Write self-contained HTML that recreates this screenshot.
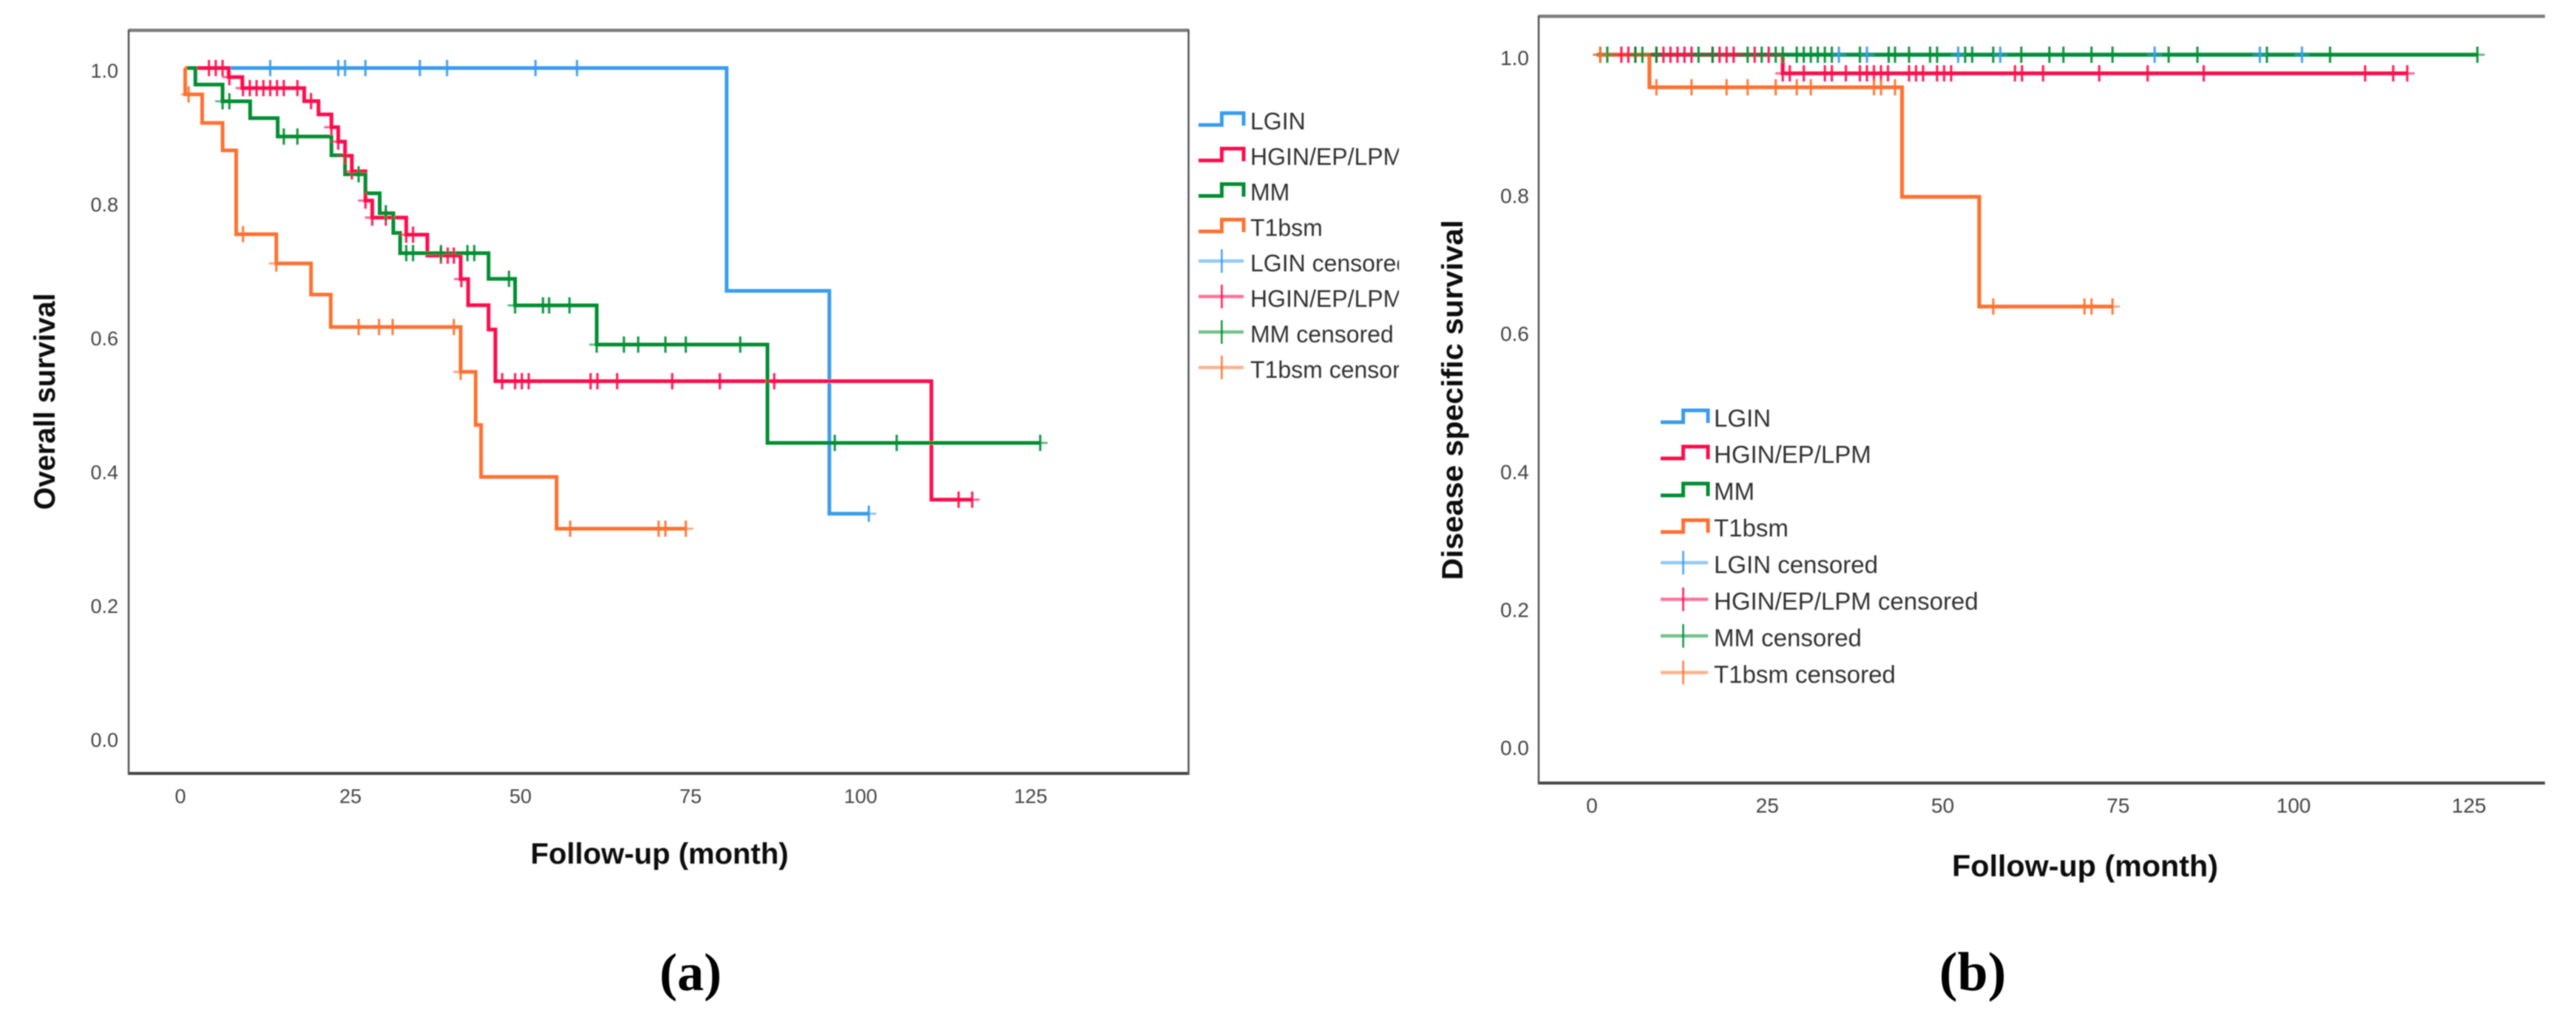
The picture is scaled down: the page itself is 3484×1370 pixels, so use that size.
<!DOCTYPE html>
<html lang="en">
<head>
<meta charset="utf-8">
<title>Kaplan-Meier survival curves</title>
<style>
html,body{margin:0;padding:0;background:#fff;}
body{width:3484px;height:1370px;overflow:hidden;}
svg{display:block;}
text{font-family:"Liberation Sans",sans-serif;}
.tick{font-size:27px;fill:#444;}
.title{font-size:40px;font-weight:bold;fill:#111;}
.leg{font-size:33px;fill:#333;}
.panel{font-family:"Liberation Serif",serif;font-weight:bold;fill:#000;}
</style>
</head>
<body>
<svg id="root" xmlns="http://www.w3.org/2000/svg" width="3484" height="1370" viewBox="0 0 3484 1370">
  <defs>
    <filter id="soft" filterUnits="userSpaceOnUse" x="0" y="0" width="3484" height="1370">
      <feGaussianBlur stdDeviation="0.7"/>
    </filter>
    <clipPath id="legend-clip-a"><rect x="1600" y="120" width="292" height="420"/></clipPath>
  </defs>
  <rect width="3484" height="1370" fill="#fff"/>
  <g id="art" filter="url(#soft)">
    <g id="panel-a">
      <line x1="174" y1="41" x2="1608" y2="41" stroke="#7d7d7d" stroke-width="4.5"/>
      <line x1="174" y1="1046" x2="1608" y2="1046" stroke="#444" stroke-width="4"/>
      <line x1="174" y1="40" x2="174" y2="1048" stroke="#555" stroke-width="2.5"/>
      <line x1="1607.5" y1="40" x2="1607.5" y2="1048" stroke="#555" stroke-width="2.5"/>
      <text class="title" transform="rotate(-90 74 543)" x="74" y="543" text-anchor="middle" textLength="293" lengthAdjust="spacingAndGlyphs">Overall survival</text>
      <text class="title" x="892" y="1168" text-anchor="middle" textLength="349" lengthAdjust="spacingAndGlyphs">Follow-up (month)</text>
    </g>
    <g id="panel-b">
      <line x1="2081" y1="22" x2="3442" y2="22" stroke="#7d7d7d" stroke-width="4.5"/>
      <line x1="2081" y1="1059" x2="3442" y2="1059" stroke="#444" stroke-width="4"/>
      <line x1="2081" y1="21" x2="2081" y2="1061" stroke="#555" stroke-width="2.5"/>
      <text class="title" transform="rotate(-90 1978 541)" x="1978" y="541" text-anchor="middle" textLength="487" lengthAdjust="spacingAndGlyphs">Disease specific survival</text>
      <text class="title" x="2820" y="1185" text-anchor="middle" textLength="360" lengthAdjust="spacingAndGlyphs" style="font-size:41px">Follow-up (month)</text>
    </g>
    <text class="panel" x="934" y="1339" text-anchor="middle" style="font-size:72px">(a)</text>
    <text class="panel" x="2668" y="1339" text-anchor="middle" style="font-size:74px">(b)</text>
  </g>
</svg>
<script>
// Shared axis values and labels
const xTickValues = [0, 25, 50, 75, 100, 125];
const yTickValues = [0, 0.2, 0.4, 0.6, 0.8, 1.0];
const yTickLabels = ['0.0', '0.2', '0.4', '0.6', '0.8', '1.0'];
const legendLabels = ['LGIN', 'HGIN/EP/LPM', 'MM', 'T1bsm', 'LGIN censored', 'HGIN/EP/LPM censored', 'MM censored', 'T1bsm censored'];
const seriesNames = ['lgin', 'hgin', 'mm', 't1bsm'];

// Panel (a): overall survival. Times are months, survival is a proportion.
const aLginTimes = [0.7, 80.3, 95.4];
const aLginSurv = [1, 0.667, 0.334];
const aLginCens = [13.2, 23.2, 24.2, 27.2, 35.2, 39.2, 52.2, 58.3, 101.2];

const aHginTimes = [0.7, 7.1, 9.1, 18.2, 20.3, 22.2, 23.2, 24.2, 25.2, 27.2, 28.2, 33.2, 36.3, 41.2, 42.3, 45.3, 46.3, 110.4];
const aHginSurv = [1, 0.9864, 0.97, 0.9506, 0.9307, 0.9116, 0.89, 0.8689, 0.8457, 0.8019, 0.7765, 0.751, 0.7197, 0.6847, 0.6456, 0.6092, 0.532, 0.355];
const aHginCens = [4.2, 5.2, 6.2, 7.2, 9.2, 10.2, 11.2, 12.2, 13.2, 14.2, 15.2, 17.2, 19.2, 22.2, 23.2, 24.2, 25.2, 27.2, 28.2, 30.2, 33.2, 34.2, 38.3, 39.3, 40.2, 41.3, 47.3, 49.2, 50.2, 51.2, 60.3, 61.3, 64.2, 72.3, 79.3, 87.3, 114.4, 116.4];

const aMmTimes = [0.7, 2.2, 6.2, 10.25, 14.3, 22.2, 24.2, 27.2, 29.3, 31.3, 32.3, 45.3, 49.2, 61.2, 86.3];
const aMmSurv = [1, 0.9753, 0.9503, 0.9252, 0.8976, 0.8696, 0.8412, 0.8129, 0.783, 0.7536, 0.7234, 0.685, 0.6453, 0.5867, 0.4398];
const aMmCens = [6.2, 7.2, 15.2, 17.2, 26.2, 30.2, 33.2, 34.2, 38.3, 42.2, 43.2, 48.3, 49.2, 53.3, 54.2, 57.2, 61.2, 65.2, 67.3, 71.3, 74.3, 82.3, 96.2, 105.3, 126.4];

const aT1Times = [0.65, 0.7, 3.2, 6.2, 8.2, 14.1, 19.2, 22.1, 41.2, 43.4, 44.2, 55.3];
const aT1Surv = [1, 0.9606, 0.918, 0.877, 0.7517, 0.708, 0.6615, 0.613, 0.546, 0.4666, 0.389, 0.3116];
const aT1Cens = [1.2, 9.2, 14.1, 26.2, 29.2, 31.2, 40.2, 41.2, 57.3, 70.3, 71.3, 74.3];

// Panel (b): disease specific survival
const bLginTimes = [0.7];
const bLginSurv = [1];
const bLginCens = [35.2, 39.2, 52.2, 58.2, 80.2, 95.2, 101.2];

const bHginTimes = [0.7, 27.2];
const bHginSurv = [1, 0.973];
const bHginCens = [4.2, 5.2, 6.2, 9.2, 10.2, 11.2, 12.2, 13.2, 14.2, 17.2, 18.2, 19.2, 20.2, 23.2, 25.2, 27.2, 28.2, 30.2, 33.2, 34.2, 36.2, 38.2, 39.2, 40.2, 41.2, 42.2, 45.2, 46.2, 47.2, 49.2, 50.2, 51.2, 60.3, 61.3, 64.3, 72.3, 79.2, 87.2, 110.2, 114.2, 116.2];

const bMmTimes = [0.7];
const bMmSurv = [1];
const bMmCens = [1.2, 2.2, 6.2, 7.2, 9.2, 15.2, 17.2, 22.2, 24.2, 26.2, 27.2, 29.2, 30.2, 31.2, 32.2, 33.2, 34.2, 38.2, 42.3, 43.2, 45.2, 48.2, 49.2, 53.2, 54.2, 57.2, 61.2, 65.2, 67.2, 71.2, 74.2, 82.2, 86.3, 96.2, 105.2, 126.2];

const bT1Times = [0.7, 8.2, 44.2, 55.2];
const bT1Surv = [1, 0.9528, 0.794, 0.635];
const bT1Cens = [1.2, 9.2, 14.2, 19.2, 22.2, 26.2, 29.2, 31.2, 40.2, 41.2, 43.2, 57.2, 70.2, 71.2, 74.2];

const colors = {lgin: '#3a9cec', hgin: '#ff0a4c', mm: '#008f32', t1bsm: '#ff7232'};
const legendColors = [colors.lgin, colors.hgin, colors.mm, colors.t1bsm];
const NS = 'http://www.w3.org/2000/svg';

function svgEl(tag, parent) {
  const el = document.createElementNS(NS, tag);
  parent.appendChild(el);
  return el;
}

function survivalAt(times, surv, t) {
  let s = surv[0];
  for (let i = 0; i < times.length; i++) {
    if (t >= times[i]) s = surv[i];
  }
  return s;
}

function stepPath(times, surv, endTime, xf, yf) {
  let d = 'M' + xf(times[0]) + ' ' + yf(surv[0]);
  for (let i = 1; i < times.length; i++) {
    d += ' H' + xf(times[i]) + ' V' + yf(surv[i]);
  }
  d += ' H' + xf(endTime);
  return d;
}

function drawLine(g, name, times, surv, cens, xf, yf, width) {
  const end = Math.max(times[times.length - 1], cens.length ? Math.max.apply(null, cens) : 0);
  const p = svgEl('path', g);
  p.setAttribute('d', stepPath(times, surv, end, xf, yf));
  p.setAttribute('fill', 'none');
  p.setAttribute('stroke', colors[name]);
  p.setAttribute('stroke-width', width);
  p.setAttribute('stroke-linejoin', 'miter');
  
  
}

function drawCensors(g, name, times, surv, cens, xf, yf) {
  cens.forEach(function (t) {
    const cx = xf(t);
    const cy = yf(survivalAt(times, surv, t));
    const mark = svgEl('g', g);
    
    
    const h = svgEl('line', mark);
    h.setAttribute('x1', cx - 10);
    h.setAttribute('x2', cx + 10);
    h.setAttribute('y1', cy);
    h.setAttribute('y2', cy);
    h.setAttribute('stroke', colors[name]);
    h.setAttribute('stroke-opacity', '0.6');
    h.setAttribute('stroke-width', '3');
    const v = svgEl('line', mark);
    v.setAttribute('x1', cx);
    v.setAttribute('x2', cx);
    v.setAttribute('y1', cy - 11);
    v.setAttribute('y2', cy + 11);
    v.setAttribute('stroke', colors[name]);
    v.setAttribute('stroke-opacity', '0.9');
    v.setAttribute('stroke-width', '3.2');
  });
}

function drawTicks(g, suffix, xf, yf, xBase, yRight, yOffset, size) {
  xTickValues.forEach(function (v) {
    const t = svgEl('text', g);
    t.setAttribute('class', 'tick');
    t.setAttribute('x', xf(v));
    t.setAttribute('y', xBase);
    t.setAttribute('text-anchor', 'middle');
    t.style.fontSize = size + 'px';
    
    
    t.textContent = String(v);
  });
  yTickValues.forEach(function (v, i) {
    const t = svgEl('text', g);
    t.setAttribute('class', 'tick');
    t.setAttribute('x', yRight);
    t.setAttribute('y', yf(v) + yOffset);
    t.setAttribute('text-anchor', 'end');
    t.style.fontSize = size + 'px';
    
    
    t.textContent = yTickLabels[i];
  });
}

function drawLegend(g, suffix, symLeft, symMid, symRight, textX, rows, clip, fontSize) {
  const legend = svgEl('g', g);
  
  
  if (clip) legend.setAttribute('clip-path', clip);
  legendLabels.forEach(function (label, i) {
    const y = rows[i];
    const color = legendColors[i % 4];
    const entry = svgEl('g', legend);
    
    
    if (i < 4) {
      const p = svgEl('path', entry);
      p.setAttribute('d', 'M' + symLeft + ' ' + (y + 6) + ' H' + symMid + ' V' + (y - 10) + ' H' + symRight + ' V' + (y + 7));
      p.setAttribute('fill', 'none');
      p.setAttribute('stroke', color);
      p.setAttribute('stroke-width', '5');
    } else {
      const h = svgEl('line', entry);
      h.setAttribute('x1', symLeft);
      h.setAttribute('x2', symRight);
      h.setAttribute('y1', y - 2);
      h.setAttribute('y2', y - 2);
      h.setAttribute('stroke', color);
      h.setAttribute('stroke-opacity', '0.55');
      h.setAttribute('stroke-width', '4.5');
      const v = svgEl('line', entry);
      v.setAttribute('x1', symMid);
      v.setAttribute('x2', symMid);
      v.setAttribute('y1', y - 18);
      v.setAttribute('y2', y + 14);
      v.setAttribute('stroke', color);
      v.setAttribute('stroke-opacity', '0.9');
      v.setAttribute('stroke-width', '2.6');
    }
    const t = svgEl('text', entry);
    t.setAttribute('class', 'leg');
    t.setAttribute('x', textX);
    t.setAttribute('y', y + 12);
    t.style.fontSize = fontSize + 'px';
    t.textContent = label;
  });
}

// Axis functions
function xA(t) { return 244 + 9.2 * t; }
function yA(s) { return 997 - 905 * s; }
function xB(t) { return 2153 + 9.49 * t; }
function yB(s) { return 1007 - 933 * s; }

const groupA = document.getElementById('panel-a');
const groupB = document.getElementById('panel-b');

// Panel (a) marks: lines first, then censor marks
drawLine(groupA, 'lgin', aLginTimes, aLginSurv, aLginCens, xA, yA, 5);
drawLine(groupA, 'hgin', aHginTimes, aHginSurv, aHginCens, xA, yA, 5);
drawLine(groupA, 'mm', aMmTimes, aMmSurv, aMmCens, xA, yA, 5);
drawLine(groupA, 't1bsm', aT1Times, aT1Surv, aT1Cens, xA, yA, 5);
drawCensors(groupA, 'hgin', aHginTimes, aHginSurv, aHginCens, xA, yA);
drawCensors(groupA, 'mm', aMmTimes, aMmSurv, aMmCens, xA, yA);
drawCensors(groupA, 't1bsm', aT1Times, aT1Surv, aT1Cens, xA, yA);
drawCensors(groupA, 'lgin', aLginTimes, aLginSurv, aLginCens, xA, yA);
drawTicks(groupA, 'a', xA, yA, 1086, 160, 13, 27);
drawLegend(groupA, 'a', 1621, 1652.4, 1682, 1691, [163, 211, 259, 307, 355, 403, 451, 499], 'url(#legend-clip-a)', 32);

// Panel (b) marks
drawLine(groupB, 'lgin', bLginTimes, bLginSurv, bLginCens, xB, yB, 5.2);
drawLine(groupB, 'hgin', bHginTimes, bHginSurv, bHginCens, xB, yB, 5.2);
drawLine(groupB, 'mm', bMmTimes, bMmSurv, bMmCens, xB, yB, 5.2);
// Red and green overlap at the top between the orange drop and the red drop, and read as brown
const overlap = svgEl('line', groupB);
overlap.setAttribute('x1', xB(bT1Times[1]));
overlap.setAttribute('x2', xB(bHginTimes[1]));
overlap.setAttribute('y1', yB(bHginSurv[0]));
overlap.setAttribute('y2', yB(bHginSurv[0]));
overlap.setAttribute('stroke', colors.hgin);
overlap.setAttribute('stroke-opacity', '0.45');
overlap.setAttribute('stroke-width', '5.2');


drawLine(groupB, 't1bsm', bT1Times, bT1Surv, bT1Cens, xB, yB, 5.2);
drawCensors(groupB, 'hgin', bHginTimes, bHginSurv, bHginCens, xB, yB);
drawCensors(groupB, 'mm', bMmTimes, bMmSurv, bMmCens, xB, yB);
drawCensors(groupB, 't1bsm', bT1Times, bT1Surv, bT1Cens, xB, yB);
drawCensors(groupB, 'lgin', bLginTimes, bLginSurv, bLginCens, xB, yB);
drawTicks(groupB, 'b', xB, yB, 1099, 2068, 14, 28);
drawLegend(groupB, 'b', 2246, 2276.5, 2310, 2318, [565, 614, 664, 713.5, 763, 812.5, 862, 911.5], null, 33);
</script>
</body>
</html>
